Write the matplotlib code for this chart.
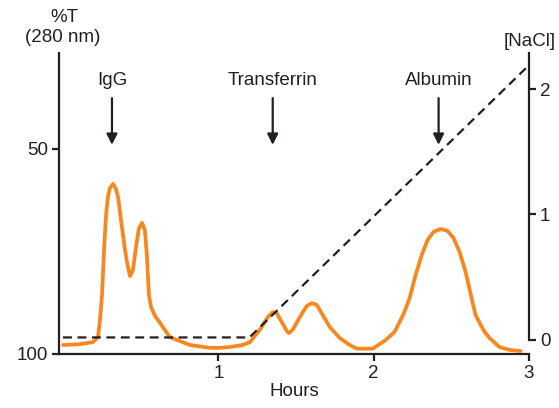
import matplotlib
matplotlib.use('Agg')
import matplotlib.pyplot as plt

plt.rcParams['font.family'] = ['Liberation Sans', 'DejaVu Sans']

# elution profile, %T at 280 nm
hours = [0.000, 0.109, 0.193, 0.206, 0.225, 0.238, 0.251, 0.264, 0.277, 0.289,
         0.302, 0.322, 0.341, 0.354, 0.379, 0.399, 0.412, 0.431, 0.450, 0.469,
         0.489, 0.508, 0.527, 0.540, 0.547, 0.553, 0.566, 0.592, 0.624, 0.688,
         0.817, 0.945, 1.010, 1.074, 1.158, 1.203, 1.267, 1.318, 1.350, 1.376,
         1.408, 1.441, 1.453, 1.479, 1.524, 1.569, 1.601, 1.633, 1.672, 1.717,
         1.781, 1.846, 1.891, 1.994, 2.077, 2.135, 2.193, 2.232, 2.270, 2.309,
         2.347, 2.386, 2.431, 2.476, 2.514, 2.553, 2.592, 2.630, 2.656, 2.682,
         2.714, 2.746, 2.810, 2.875, 2.945]
trans = [97.8, 97.6, 97.1, 96.6, 95.9, 91.7, 85.6, 74.6, 66.1, 61.7,
         59.5, 58.5, 59.8, 61.7, 69.0, 74.6, 77.6, 81.0, 79.5, 74.1,
         69.3, 68.0, 69.8, 75.9, 81.2, 85.6, 88.5, 90.7, 92.4, 95.9,
         97.8, 98.5, 98.5, 98.3, 97.8, 97.1, 94.1, 91.0, 89.8, 90.0,
         92.2, 94.4, 94.9, 94.1, 91.0, 88.3, 87.6, 88.0, 90.5, 93.4,
         96.1, 97.8, 98.7, 98.7, 96.6, 94.6, 90.2, 86.3, 80.7, 75.9,
         72.2, 70.2, 69.5, 70.0, 71.7, 75.1, 80.0, 86.3, 90.5, 92.4,
         94.6, 96.1, 98.3, 99.0, 99.3]

# salt gradient
grad_hours = [0.0, 1.2, 3.0]
grad_nacl = [0.02, 0.02, 2.19]

# peak markers
peaks = ['IgG', 'Transferrin', 'Albumin']
peak_hours = [0.315, 1.35, 2.418]

W, H = 559, 408
fig = plt.figure(figsize=(W / 100, H / 100), dpi=100)
ax = fig.add_axes([59 / W, (H - 354) / H, (529 - 59) / W, (354 - 53) / H])

ax.plot(hours, trans, color='#F7871F', lw=2.7, solid_capstyle='round',
        solid_joinstyle='round', zorder=3)
ax.set_xlim(-0.026, 3.0)
ax.set_ylim(100, 26.6)
ax.set_xticks([1, 2, 3])
ax.set_yticks([100, 50])
ax.spines['top'].set_visible(False)
ax.spines['right'].set_visible(False)
for s in ['left', 'bottom']:
    ax.spines[s].set_linewidth(1.6)
    ax.spines[s].set_color('#231f20')
ax.tick_params(direction='out', length=5, width=1.6, labelsize=13.5, pad=3,
               color='#231f20', labelcolor='#231f20')
ax.set_xlabel('Hours', fontsize=13.5, labelpad=1, color='#231f20')

ax2 = ax.twinx()
ax2.plot(grad_hours, grad_nacl, color='#231f20', lw=1.6, ls=(0, (4, 2.5)))
ax2.set_ylim(-0.112, 2.287)
ax2.set_yticks([0, 1, 2])
for s in ['top', 'left', 'bottom']:
    ax2.spines[s].set_visible(False)
ax2.spines['right'].set_bounds(0, 2.287)
ax2.spines['right'].set_linewidth(1.6)
ax2.spines['right'].set_color('#231f20')
ax2.tick_params(direction='out', length=5, width=1.6, labelsize=13.5, pad=3,
                color='#231f20', labelcolor='#231f20')

for name, h in zip(peaks, peak_hours):
    ax.annotate('', xy=(h, 49.0), xytext=(h, 37.6),
                arrowprops=dict(arrowstyle='-|>', lw=1.6, color='#231f20',
                                mutation_scale=16, shrinkA=0, shrinkB=0))
    ax.text(h, 33.2, name, ha='center', va='center', fontsize=13.5,
            color='#231f20')

fig.text(64 / W, 1 - 17 / H, '%T', ha='center', va='center', fontsize=13.5,
         color='#231f20')
fig.text(63 / W, 1 - 38 / H, '(280 nm)', ha='center', va='center',
         fontsize=13.5, color='#231f20')
fig.text(530 / W, 1 - 41 / H, '[NaCl]', ha='center', va='center',
         fontsize=13.5, color='#231f20')

fig.savefig('out.png', dpi=100)
